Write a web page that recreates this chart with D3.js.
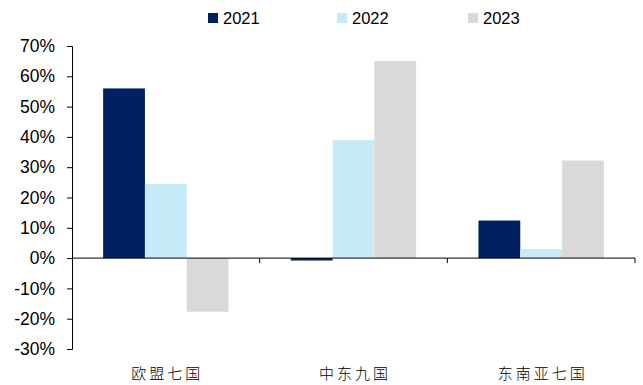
<!DOCTYPE html>
<html>
<head>
<meta charset="utf-8">
<script src="https://cdn.jsdelivr.net/npm/d3@7"></script>
<style>
  html, body { margin: 0; padding: 0; background: #fff; }
  svg { display: block; }
</style>
</head>
<body>
<svg id="chart" width="643" height="385"></svg>
<script>
// Regions on the x axis
const categories = ["欧盟七国", "中东九国", "东南亚七国"];
// Year-over-year growth (%) per series
const years = ["2021", "2022", "2023"];
const values2021 = [56.0, -0.8, 12.4];
const values2022 = [24.4, 38.9, 3.0];
const values2023 = [-17.7, 65.1, 32.2];
const yTicks = [70, 60, 50, 40, 30, 20, 10, 0, -10, -20, -30];
const colors = ["#002060", "#C5EBF9", "#D9D9D9"];

const seriesValues = [values2021, values2022, values2023];

const svg = d3.select("#chart");
const margin = { left: 72, right: 8, top: 46, bottom: 36 };
const W = 643, H = 385;

const x0 = d3.scaleBand()
  .domain(categories)
  .range([margin.left, W - margin.right])
  .paddingInner(0).paddingOuter(0);

const x1 = d3.scaleBand()
  .domain(years)
  .range([0, x0.bandwidth()])
  .paddingOuter(0.745).paddingInner(0);

const y = d3.scaleLinear()
  .domain([-30, 70])
  .range([H - margin.bottom, margin.top]);

// Bars
const g = svg.append("g");
categories.forEach((cat, ci) => {
  years.forEach((yr, si) => {
    const v = seriesValues[si][ci];
    g.append("rect")
      .attr("x", x0(cat) + x1(yr))
      .attr("width", x1.bandwidth())
      .attr("y", y(Math.max(0, v)))
      .attr("height", Math.abs(y(v) - y(0)))
      .attr("fill", colors[si]);
  });
});

// Y axis
const yAxis = d3.axisLeft(y)
  .tickValues(yTicks)
  .tickSize(5)
  .tickFormat(d => d + "%");
const ya = svg.append("g")
  .attr("transform", `translate(${margin.left},0)`)
  .call(yAxis);
ya.select(".domain").attr("stroke", "#000").attr("stroke-width", 1);
ya.selectAll(".tick line").attr("stroke", "#000");
ya.selectAll(".tick text")
  .attr("x", -17)
  .attr("fill", "#000")
  .style("font-family", "'Liberation Sans', Arial, sans-serif")
  .style("font-size", "17.5px");

// Zero line with category separator ticks
svg.append("line")
  .attr("x1", margin.left).attr("x2", W - margin.right)
  .attr("y1", y(0)).attr("y2", y(0))
  .attr("stroke", "#000").attr("stroke-width", 1);
categories.forEach((cat, i) => {
  if (i === 0) return;
  svg.append("line")
    .attr("x1", x0(cat)).attr("x2", x0(cat))
    .attr("y1", y(0)).attr("y2", y(0) + 5)
    .attr("stroke", "#000");
});
svg.append("line")
  .attr("x1", W - margin.right).attr("x2", W - margin.right)
  .attr("y1", y(0)).attr("y2", y(0) + 5)
  .attr("stroke", "#000");

// Category labels
svg.selectAll(".cat")
  .data(categories)
  .enter().append("text")
  .attr("x", d => x0(d) + x0.bandwidth() / 2 + 1.5)
  .attr("y", 379)
  .attr("text-anchor", "middle")
  .attr("fill", "#000")
  .style("font-family", "'Noto Sans CJK SC', sans-serif")
  .style("font-weight", "300")
  .style("font-size", "15px")
  .style("letter-spacing", "3px")
  .text(d => d);

// Legend
const legendX = [208, 337, 468];
years.forEach((yr, i) => {
  svg.append("rect")
    .attr("x", legendX[i]).attr("y", 13)
    .attr("width", 10).attr("height", 10)
    .attr("fill", colors[i]);
  svg.append("text")
    .attr("x", legendX[i] + 15).attr("y", 24)
    .attr("fill", "#000")
    .style("font-family", "'Liberation Sans', Arial, sans-serif")
    .style("font-size", "16.5px")
    .text(yr);
});
</script>
</body>
</html>
